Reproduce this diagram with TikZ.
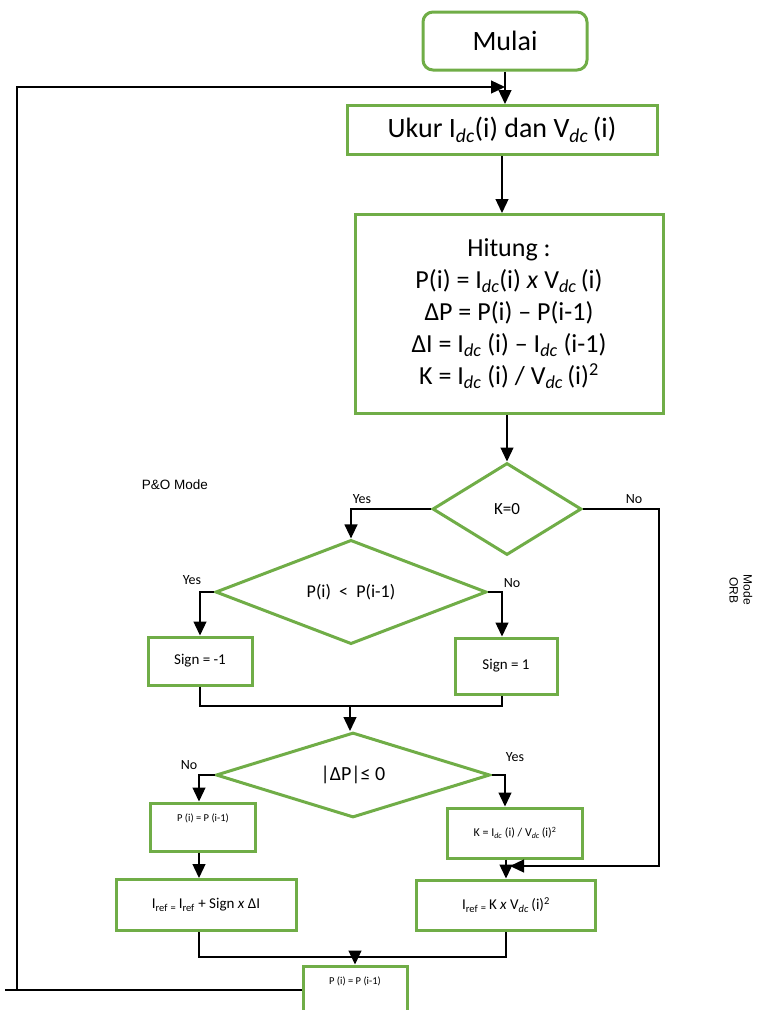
\documentclass[tikz,border=0pt]{standalone}
\usepackage{fontspec}
\setmainfont{Carlito}
\newfontfamily\arialfont{Liberation Sans}
\usetikzlibrary{shapes.geometric,arrows.meta}
\definecolor{hijau}{HTML}{70AD47}
\newcommand{\dc}{\textsubscript{\textit{dc}}}
\newcommand{\rf}{\textsubscript{ref}}
\newcommand{\ukuran}[1]{\fontsize{#1}{1.3\dimexpr#1pt\relax}\selectfont}
\newcommand{\naik}[1]{\raisebox{6pt}[0pt][0pt]{#1}}
\tikzset{
  kotak/.style={draw=hijau, line width=3pt, rectangle, inner sep=2pt, align=center},
  awal/.style={kotak, rounded corners=10pt},
  belah/.style={draw=hijau, line width=3pt, diamond, inner sep=0pt, align=center},
  garis/.style={line width=1.3pt},
  panah/.style={garis, -{Triangle[length=14pt,width=13pt]}},
  lbl/.style={font=\ukuran{14}, inner sep=0pt}
}
\begin{document}
\begin{tikzpicture}[x=1pt,y=-1pt]
\useasboundingbox (0,0) rectangle (759,1010);
\clip (0,0) rectangle (759,1010);
% kotak utama
\node[awal, minimum width=164pt, minimum height=58pt, font=\ukuran{28}] (mulai) at (505,41) {Mulai};
\node[kotak, minimum width=310pt, minimum height=49pt, font=\ukuran{28}] (ukur) at (502,130) {Ukur I\dc(i) dan V\dc\,(i)};
\node[kotak, minimum width=308pt, minimum height=199pt, font=\fontsize{26}{32}\selectfont] (hitung) at (509,314)
  {Hitung :\\P(i) = I\dc(i) \textit{x} V\dc\,(i)\\ΔP = P(i) – P(i-1)\\ΔI = I\dc\ (i) – I\dc\ (i-1)\\K = I\dc\ (i) / V\dc\,(i)\textsuperscript{2}};
\node[belah, minimum width=149pt, minimum height=92pt, font=\ukuran{17}] (kcek) at (507,509) {K=0};
\node[belah, minimum width=271pt, minimum height=95pt, font=\ukuran{18}] (pcek) at (351,592) {P(i) \ <\ \ P(i-1)};
\node[kotak, minimum width=104pt, minimum height=48pt, font=\ukuran{15}] (signm) at (200,661) {Sign = -1};
\node[kotak, minimum width=102pt, minimum height=56pt, font=\ukuran{15}] (signp) at (506,666) {Sign = 1};
\node[belah, minimum width=274pt, minimum height=85pt, font=\ukuran{20}] (dpcek) at (353,775) {|ΔP|≤ 0};
\node[kotak, minimum width=105pt, minimum height=48pt, font=\ukuran{10.5}] (psama) at (203,827) {\naik{P (i) = P (i-1)}};
\node[kotak, minimum width=135pt, minimum height=50pt, font=\ukuran{12}] (khit) at (515,833) {K = I\dc\ (i) / V\dc\,(i)\textsuperscript{2}};
\node[kotak, minimum width=180pt, minimum height=51pt, font=\ukuran{15}] (irefa) at (206,905) {I\rf\,\textsubscript{=}\,I\rf\ + Sign \textit{x} ΔI};
\node[kotak, minimum width=179pt, minimum height=50pt, font=\ukuran{15}] (irefb) at (506,905) {I\rf\,\textsubscript{=}\,K \textit{x} V\dc\,(i)\textsuperscript{2}};
\node[kotak, minimum width=104pt, minimum height=48pt, font=\ukuran{10.5}] (pakhir) at (355,990) {\naik{P (i) = P (i-1)}};
% label
\node[lbl] (ya1) at (362,499) {Yes};
\node[lbl] (tdk1) at (634,499) {No};
\node[lbl] (ya2) at (192,580) {Yes};
\node[lbl] (tdk2) at (512,583) {No};
\node[lbl] (tdk3) at (189,765) {No};
\node[lbl] (ya3) at (515,757) {Yes};
\node[inner sep=0pt, font=\arialfont\fontsize{13.5}{15}\selectfont] (pomode) at (175,485) {P\&O Mode};
\node[rotate=-90, align=center, inner sep=0pt, font=\arialfont\fontsize{12}{14}\selectfont] (orb) at (741,590) {Mode\\ORB};
% titik bantu
\coordinate (masuk) at (505,87);
\coordinate (kiri) at (17,990);
\coordinate (ujung) at (5,990);
\coordinate (kanan) at (659,866);
\coordinate (gabung) at (510,866);
\coordinate (m1) at (350,706);
\coordinate (m2) at (355,957);
% alur
\draw[panah] (mulai.south) -- (mulai.south |- ukur.north);
\draw[panah] (ukur.south) -- (ukur.south |- hitung.north);
\draw[panah] (kcek.north |- hitung.south) -- (kcek.north);
\draw[panah] (kcek.west) -| (pcek.north);
\draw[panah] (kcek.east) -| (kanan) -- (gabung);
\draw[panah] (pcek.west) -| (signm.north);
\draw[panah] (pcek.east) -| ([xshift=-4pt]signp.north);
\draw[garis] (signm.south) |- (m1) -| ([xshift=-4pt]signp.south);
\draw[panah] (m1) -- (m1 |- dpcek.north);
\draw[panah] (dpcek.west) -| ([xshift=-4pt]psama.north);
\draw[panah] (dpcek.east) -| ([xshift=-10pt]khit.north);
\draw[panah] ([xshift=-4pt]psama.south) -- ([xshift=-4pt]psama.south |- irefa.north);
\draw[panah] (irefb.north |- khit.south) -- (irefb.north);
\draw[garis] ([xshift=-7pt]irefa.south) |- (m2) -| (irefb.south);
\draw[panah] (m2) -- (m2 |- pakhir.north);
\draw[garis] (pakhir.west) -- (ujung);
\draw[panah] (kiri) |- (masuk);
\end{tikzpicture}
\end{document}
